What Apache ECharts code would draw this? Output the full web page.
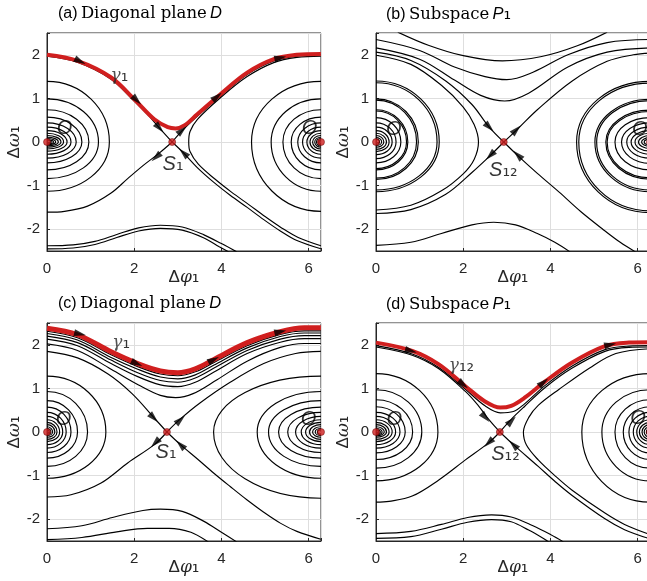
<!DOCTYPE html>
<html>
<head>
<meta charset="utf-8">
<title>Phase portraits</title>
<script src="https://cdn.jsdelivr.net/npm/echarts@6/dist/echarts.min.js"></script>
<style>
  html, body { margin: 0; padding: 0; background: #fff; overflow: hidden; }
  #chart { width: 670px; height: 581px; }
</style>
</head>
<body>
<div id="chart"></div>
<script>
const TWO_PI = 2 * Math.PI

// tick values shown on the axes
const xTicks = [0, 2, 4, 6]
const yTicks = [-2, -1, 0, 1, 2]

// ---------- (a) Diagonal plane D ----------
const aSaddle = 2.87
const aGamma = [[0, 2.0], [0.7, 1.86], [1.47, 1.48], [2.0, 0.98], [2.46, 0.52], [2.77, 0.34], [2.95, 0.31], [3.15, 0.38], [3.44, 0.63], [3.97, 1.09], [4.59, 1.59], [5.2, 1.9], [5.73, 2.0], [6.28, 2.02]]
const aWsUp = [[0, 1.97], [0.7, 1.83], [1.47, 1.44], [2.0, 0.94], [2.3, 0.64], [2.58, 0.32], [2.87, 0]]
const aWuUp = [[2.87, 0], [3.1, 0.26], [3.4, 0.55], [3.97, 1.05], [4.59, 1.55], [5.2, 1.86], [5.73, 1.97], [6.28, 2.0]]
const aWuLow = [[2.87, 0], [2.58, -0.25], [2.23, -0.52], [1.85, -0.84], [1.47, -1.17], [0.93, -1.47], [0.4, -1.59], [0, -1.61]]
const aWsLow = [[2.87, 0], [3.13, -0.25], [3.44, -0.58], [3.82, -0.92], [4.2, -1.22], [4.59, -1.5], [4.97, -1.78], [5.35, -2.04], [5.73, -2.26], [6.28, -2.45]]
const aHyp = [[6.28, 1.97], [5.73, 1.94], [5.2, 1.82], [4.59, 1.5], [3.97, 1.01], [3.45, 0.52], [3.28, 0.24], [3.25, 0], [3.28, -0.22], [3.47, -0.51], [3.85, -0.85], [4.23, -1.15], [4.62, -1.43], [5.0, -1.71], [5.38, -1.97], [5.76, -2.19], [6.28, -2.38]]
const aLow1 = [[0, -2.38], [0.6, -2.36], [1.1, -2.28], [1.6, -2.12], [2.1, -1.97], [2.6, -1.91], [3.1, -1.95], [3.6, -2.13], [4.0, -2.33], [4.35, -2.52]]
const aLow2 = [[0, -2.45], [0.6, -2.43], [1.1, -2.35], [1.6, -2.19], [2.1, -2.04], [2.6, -1.98], [3.1, -2.02], [3.6, -2.2], [3.95, -2.4], [4.22, -2.55]]
// rings round O: [top at edge, turning x, bottom at edge]
const aRingsL = [[1.39, 1.43, -1.13], [0.99, 1.18, -0.84], [0.74, 0.96, -0.64], [0.57, 0.8, -0.48], [0.44, 0.67, -0.37], [0.34, 0.55, -0.28], [0.26, 0.46, -0.21], [0.2, 0.38, -0.16], [0.15, 0.32, -0.12], [0.11, 0.26, -0.09], [0.08, 0.2, -0.06], [0.05, 0.15, -0.04], [0.03, 0.1, -0.02]]
const aRingsR = [[1.39, 4.69, -1.59], [0.99, 5.14, -1.13], [0.74, 5.41, -0.84], [0.57, 5.6, -0.64], [0.44, 5.75, -0.48], [0.34, 5.86, -0.37], [0.26, 5.96, -0.28], [0.2, 6.03, -0.21], [0.15, 6.09, -0.16], [0.11, 6.14, -0.12], [0.08, 6.18, -0.09], [0.05, 6.22, -0.06], [0.03, 6.25, -0.03]]
// arrows: [x, y, heading in degrees]
const aArrows = [[0.76, 1.85, -26], [2.06, 0.96, -45], [2.58, 0.32, -48], [3.1, 0.27, 42], [3.9, 1.04, 40], [5.35, 1.93, 12], [2.5, -0.35, -138], [3.13, -0.25, 136]]

// ---------- (b) Subspace P1 ----------
const bSaddle = 2.93
const bWsUp = [[0, 2.06], [0.8, 1.87], [1.6, 1.4], [2.2, 0.86], [2.58, 0.36], [2.93, 0]]
const bWuUp = [[2.93, 0], [3.27, 0.32], [3.7, 0.74], [4.5, 1.4], [5.3, 1.85], [5.9, 2.0], [6.28, 2.04]]
const bWuLow = [[2.93, 0], [2.6, -0.33], [2.2, -0.7], [1.6, -1.2], [0.8, -1.55], [0, -1.64]]
const bWsLow = [[2.93, 0], [3.27, -0.33], [3.7, -0.72], [4.2, -1.15], [4.7, -1.6], [5.2, -2.0], [5.6, -2.3], [5.95, -2.52]]
const bHyp = [[0, 1.99], [0.8, 1.78], [1.5, 1.3], [2.0, 0.8], [2.25, 0.4], [2.35, 0], [2.25, -0.4], [2.0, -0.73], [1.5, -1.12], [0.8, -1.45], [0, -1.56]]
const bTop0 = [[0.5, 2.52], [1.2, 2.22], [2.0, 1.98], [2.9, 1.86], [3.8, 1.96], [4.6, 2.2], [5.3, 2.52]]
const bTop1 = [[0, 2.35], [1.0, 2.1], [1.8, 1.72], [2.5, 1.5], [3.0, 1.43], [3.6, 1.6], [4.4, 2.0], [5.3, 2.28], [6.28, 2.35]]
const bTop2 = [[0, 2.16], [1.0, 1.9], [1.8, 1.42], [2.4, 1.07], [2.95, 0.94], [3.5, 1.12], [4.4, 1.72], [5.3, 2.06], [6.28, 2.16]]
const bLow = [[0, -2.37], [0.8, -2.3], [1.5, -2.1], [2.2, -1.9], [2.7, -1.84], [3.2, -1.9], [3.7, -2.1], [4.1, -2.3], [4.45, -2.52]]
const bRingsL = [[1.4, 1.45, -1.14], [1.36, 1.4, -1.1], [0.99, 0.97, -0.86], [0.96, 0.93, -0.83], [0.74, 0.73, -0.64], [0.71, 0.7, -0.61], [0.56, 0.57, -0.48], [0.44, 0.46, -0.38], [0.34, 0.37, -0.29], [0.26, 0.3, -0.22], [0.2, 0.24, -0.17], [0.15, 0.18, -0.12], [0.1, 0.13, -0.08], [0.06, 0.08, -0.05]]
const bRingsR = [[1.39, 4.6, -1.62], [1.35, 4.65, -1.58], [0.98, 5.02, -1.14], [0.95, 5.06, -1.1], [0.73, 5.27, -0.85], [0.7, 5.3, -0.82], [0.56, 5.48, -0.64], [0.44, 5.63, -0.49], [0.34, 5.75, -0.37], [0.26, 5.85, -0.28], [0.2, 5.94, -0.21], [0.15, 6.02, -0.15], [0.1, 6.09, -0.1], [0.06, 6.15, -0.06]]
const bArrows = [[2.6, 0.34, -45], [3.22, 0.28, 45], [2.62, -0.31, -135], [3.25, -0.3, 135]]

// ---------- (c) Diagonal plane D ----------
const cSaddle = 2.75
const cGamma = [[0, 2.38], [0.7, 2.23], [1.47, 1.84], [2.08, 1.57], [2.6, 1.4], [3.0, 1.36], [3.4, 1.45], [3.82, 1.66], [4.59, 2.05], [5.35, 2.3], [5.9, 2.39], [6.28, 2.39]]
const cK1 = [[0, 2.31], [0.7, 2.16], [1.47, 1.77], [2.08, 1.5], [2.6, 1.33], [3.0, 1.29], [3.4, 1.38], [3.82, 1.59], [4.59, 1.98], [5.35, 2.24], [5.9, 2.32], [6.28, 2.32]]
const cK2 = [[0, 2.26], [0.7, 2.11], [1.47, 1.71], [2.08, 1.44], [2.6, 1.26], [3.0, 1.22], [3.4, 1.31], [3.82, 1.53], [4.59, 1.93], [5.35, 2.19], [5.9, 2.27], [6.28, 2.27]]
const cK3 = [[0, 2.2], [0.7, 2.05], [1.47, 1.65], [2.08, 1.36], [2.6, 1.18], [3.0, 1.14], [3.4, 1.24], [3.82, 1.46], [4.59, 1.87], [5.35, 2.13], [5.9, 2.21], [6.28, 2.21]]
const cK4 = [[0, 2.13], [0.7, 1.98], [1.47, 1.57], [2.08, 1.27], [2.6, 1.08], [3.0, 1.04], [3.4, 1.14], [3.82, 1.37], [4.59, 1.8], [5.35, 2.06], [5.9, 2.14], [6.28, 2.14]]
const cK5 = [[0, 2.02], [0.7, 1.87], [1.47, 1.44], [2.1, 1.08], [2.6, 0.84], [2.95, 0.79], [3.35, 0.88], [3.9, 1.2], [4.6, 1.63], [5.35, 1.94], [5.9, 2.03], [6.28, 2.03]]
const cWsUp = [[0, 1.85], [0.7, 1.7], [1.4, 1.33], [1.95, 0.88], [2.46, 0.32], [2.75, 0]]
const cWuUp = [[2.75, 0], [3.06, 0.3], [3.5, 0.66], [4.2, 1.14], [4.97, 1.57], [5.7, 1.8], [6.28, 1.85]]
const cWuLow = [[2.75, 0], [2.46, -0.29], [1.85, -0.71], [1.24, -1.17], [0.55, -1.44], [0, -1.49]]
const cWsLow = [[2.75, 0], [3.06, -0.29], [3.45, -0.62], [3.82, -0.94], [4.2, -1.25], [4.59, -1.56], [4.97, -1.84], [5.35, -2.09], [5.73, -2.28], [6.28, -2.46]]
const cLow1 = [[0, -2.22], [0.8, -2.15], [1.5, -1.96], [2.2, -1.8], [2.6, -1.77], [3.1, -1.82], [3.6, -2.05], [4.0, -2.3], [4.35, -2.52]]
const cLow2 = [[0, -2.47], [0.8, -2.42], [1.6, -2.29], [2.3, -2.21], [2.8, -2.21], [3.3, -2.3], [3.7, -2.52]]
const cRingsL = [[1.28, 1.35, -1.06], [0.93, 0.93, -0.79], [0.72, 0.7, -0.6], [0.57, 0.55, -0.47], [0.45, 0.44, -0.37], [0.36, 0.36, -0.29], [0.28, 0.29, -0.22], [0.22, 0.23, -0.17], [0.17, 0.18, -0.12], [0.12, 0.13, -0.08], [0.08, 0.09, -0.05], [0.05, 0.05, -0.03]]
const cRingsR = [[1.28, 3.82, -1.52], [0.93, 4.82, -1.06], [0.72, 5.08, -0.79], [0.57, 5.31, -0.6], [0.45, 5.52, -0.47], [0.36, 5.7, -0.37], [0.28, 5.83, -0.29], [0.22, 5.93, -0.22], [0.17, 6.02, -0.17], [0.12, 6.09, -0.12], [0.08, 6.15, -0.08], [0.05, 6.2, -0.05]]
const cArrows = [[0.76, 2.25, -12], [2.06, 1.57, -24], [3.82, 1.66, 27], [5.35, 2.3, 12], [2.45, 0.32, -45], [3.06, 0.28, 42], [2.48, -0.25, -135], [3.06, -0.29, 135]]

// ---------- (d) Subspace P1 ----------
const dSaddle = 2.84
const dGamma = [[0, 2.05], [0.83, 1.86], [1.44, 1.55], [2.05, 1.05], [2.5, 0.7], [2.85, 0.56], [3.1, 0.6], [3.4, 0.78], [3.88, 1.16], [4.49, 1.59], [5.25, 1.97], [5.8, 2.05], [6.28, 2.06]]
const dK = [[0, 1.98], [0.83, 1.79], [1.44, 1.48], [2.05, 0.98], [2.5, 0.6], [2.85, 0.44], [3.15, 0.47], [3.4, 0.64], [3.88, 1.07], [4.49, 1.51], [5.25, 1.89], [5.8, 1.97], [6.28, 1.98]]
const dWsUp = [[0, 1.95], [0.83, 1.76], [1.44, 1.45], [2.05, 0.93], [2.35, 0.6], [2.6, 0.27], [2.84, 0]]
const dWuUp = [[2.84, 0], [3.1, 0.29], [3.4, 0.58], [3.88, 1.02], [4.49, 1.46], [5.25, 1.85], [5.8, 1.94], [6.28, 1.95]]
const dHyp = [[6.28, 1.91], [5.5, 1.8], [4.9, 1.47], [4.2, 0.98], [3.72, 0.61], [3.5, 0.33], [3.38, 0], [3.45, -0.3], [3.72, -0.64], [4.1, -1.0], [4.49, -1.33], [5.25, -1.86], [5.7, -2.12], [6.28, -2.35]]
const dWsLow = [[2.84, 0], [3.15, -0.29], [3.72, -0.79], [4.1, -1.13], [4.49, -1.45], [5.25, -1.99], [5.7, -2.24], [6.28, -2.45]]
const dWuLow = [[2.84, 0], [2.58, -0.25], [2.05, -0.64], [1.44, -1.1], [0.83, -1.47], [0.3, -1.59], [0, -1.61]]
const dLow1 = [[0, -2.33], [0.8, -2.28], [1.5, -2.12], [2.1, -1.96], [2.65, -1.9], [3.1, -1.95], [3.6, -2.15], [4.0, -2.35], [4.3, -2.52]]
const dLow2 = [[0, -2.44], [0.8, -2.4], [1.5, -2.23], [2.1, -2.07], [2.65, -2.01], [3.1, -2.06], [3.5, -2.25], [3.85, -2.45], [4.0, -2.55]]
const dRingsL = [[1.34, 1.42, -1.12], [0.97, 1.05, -0.83], [0.74, 0.84, -0.63], [0.58, 0.67, -0.48], [0.45, 0.55, -0.37], [0.36, 0.45, -0.29], [0.28, 0.37, -0.22], [0.22, 0.3, -0.17], [0.17, 0.24, -0.12], [0.12, 0.19, -0.09], [0.08, 0.14, -0.06], [0.05, 0.1, -0.04], [0.03, 0.06, -0.02]]
const dRingsR = [[1.34, 4.72, -1.61], [0.97, 5.18, -1.12], [0.74, 5.48, -0.83], [0.58, 5.67, -0.63], [0.45, 5.8, -0.48], [0.36, 5.9, -0.37], [0.28, 5.98, -0.29], [0.22, 6.04, -0.22], [0.17, 6.1, -0.17], [0.12, 6.15, -0.12], [0.08, 6.2, -0.08], [0.05, 6.24, -0.05]]
const dArrows = [[0.8, 1.86, -15], [2.0, 1.09, -40], [3.84, 1.14, 40], [5.37, 2.0, 12], [2.51, 0.33, -48], [3.11, 0.26, 45], [2.58, -0.25, -137], [3.15, -0.29, 135]]

// styles
const AXIS = '#262626'
const GRIDC = '#dedede'
const RED = '#d01f1f'
const SANS = 'Liberation Sans'

const RICH = {
  d: { fontFamily: SANS, fontSize: 17, color: AXIS },
  g: { fontFamily: 'DejaVu Serif', fontStyle: 'italic', fontSize: 17, color: AXIS },
  s: { fontFamily: 'DejaVu Sans', fontSize: 19, color: AXIS },
  o: { fontFamily: SANS, fontStyle: 'italic', fontSize: 20, color: '#000' },
  t: { fontFamily: SANS, fontSize: 16, color: '#000' },
  r: { fontFamily: 'DejaVu Serif', fontSize: 16.5, color: '#000' },
  i: { fontFamily: SANS, fontStyle: 'italic', fontSize: 16.5, color: '#000' },
  k: { fontFamily: 'DejaVu Sans', fontSize: 19, color: '#000' }
}

const panels = [
  {
    box: { left: 47, top: 33 }, title: { left: 58, top: 5, text: '{t|(a)} {r|Diagonal plane} {i|D}' },
    saddle: aSaddle, ringsL: aRingsL, ringsR: aRingsR, arrows: aArrows, gamma: aGamma, gammaWidth: 4,
    black: [aWsUp, aWuUp, aWuLow, aWsLow, aHyp, aLow1, aLow2],
    labels: [['{o|O}', 0.4, 0.3], ['{o|O}', 6.02, 0.3], ['{o|S}{k|₁}', 2.89, -0.52], ['{g|γ}{k|₁}', 1.66, 1.52]]
  },
  {
    box: { left: 376, top: 33 }, title: { left: 386, top: 5, text: '{t|(b)} {r|Subspace} {i|P}{k|₁}' },
    saddle: bSaddle, ringsL: bRingsL, ringsR: bRingsR, arrows: bArrows, gamma: null,
    black: [bWsUp, bWuUp, bWuLow, bWsLow, bHyp, bTop0, bTop1, bTop2, bLow],
    labels: [['{o|O}', 0.41, 0.29], ['{o|O}', 6.05, 0.28], ['{o|S}{k|₁₂}', 2.92, -0.66]]
  },
  {
    box: { left: 47, top: 323 }, title: { left: 58, top: 295, text: '{t|(c)} {r|Diagonal plane} {i|D}' },
    saddle: cSaddle, ringsL: cRingsL, ringsR: cRingsR, arrows: cArrows, gamma: cGamma, gammaWidth: 5,
    black: [cK1, cK2, cK3, cK4, cK5, cWsUp, cWuUp, cWuLow, cWsLow, cLow1, cLow2],
    labels: [['{o|O}', 0.38, 0.29], ['{o|O}', 6.0, 0.29], ['{o|S}{k|₁}', 2.73, -0.48], ['{g|γ}{k|₁}', 1.7, 2.05]]
  },
  {
    box: { left: 376, top: 323 }, title: { left: 386, top: 295, text: '{t|(d)} {r|Subspace} {i|P}{k|₁}' },
    saddle: dSaddle, ringsL: dRingsL, ringsR: dRingsR, arrows: dArrows, gamma: dGamma, gammaWidth: 4,
    black: [dK, dWsUp, dWuUp, dHyp, dWsLow, dWuLow, dLow1, dLow2],
    labels: [['{o|O}', 0.42, 0.29], ['{o|O}', 6.01, 0.3], ['{o|S}{k|₁₂}', 2.97, -0.52], ['{g|γ}{k|₁₂}', 1.96, 1.52]]
  }
]

const intLabel = v => (xTicks.includes(v) || yTicks.includes(v)) ? String(v) : ''

// half rings round a centre on the edge (x = 0 or x = 2π)
function ringSeries(rings, base, gi) {
  return {
    type: 'custom', xAxisIndex: gi, yAxisIndex: gi, data: rings, encode: { x: 1, y: 0 },
    silent: true, z: 2, clip: true,
    renderItem: (params, api) => {
      const top = api.coord([base, api.value(0)])
      const tip = api.coord([api.value(1), 0])
      const bot = api.coord([base, api.value(2)])
      const k = 0.5523
      const st = { stroke: '#000', lineWidth: 1.15, fill: null }
      return {
        type: 'group',
        children: [
          { type: 'bezierCurve', style: st, shape: { x1: top[0], y1: top[1], cpx1: top[0] + k * (tip[0] - top[0]), cpy1: top[1], cpx2: tip[0], cpy2: tip[1] + k * (top[1] - tip[1]), x2: tip[0], y2: tip[1] } },
          { type: 'bezierCurve', style: st, shape: { x1: tip[0], y1: tip[1], cpx1: tip[0], cpy1: tip[1] + k * (bot[1] - tip[1]), cpx2: bot[0] + k * (tip[0] - bot[0]), cpy2: bot[1], x2: bot[0], y2: bot[1] } }
        ]
      }
    }
  }
}

function curve(data, gi, color, width, z) {
  return {
    type: 'line', xAxisIndex: gi, yAxisIndex: gi, data, symbol: 'none', smooth: 0.35,
    lineStyle: { color, width }, silent: true, z
  }
}

const grids = [], xAxes = [], yAxes = [], series = [], graphic = []
panels.forEach((p, gi) => {
  grids.push({ left: p.box.left, top: p.box.top, width: 274, height: 218, show: true, borderColor: AXIS, borderWidth: 1 })
  xAxes.push({
    gridIndex: gi, type: 'value', min: 0, max: TWO_PI, interval: 2,
    axisLine: { onZero: false, lineStyle: { color: AXIS } },
    axisTick: { inside: true, length: 3, lineStyle: { color: AXIS } },
    axisLabel: { margin: 10, fontFamily: SANS, fontSize: 15, color: AXIS, formatter: intLabel },
    splitLine: { lineStyle: { color: GRIDC } },
    name: '{d|Δ}{g|φ}{s|₁}', nameLocation: 'middle', nameGap: 17, nameMoveOverlap: false,
    nameTextStyle: { rich: RICH }
  })
  yAxes.push({
    gridIndex: gi, type: 'value', min: -2.5, max: 2.5, splitNumber: 5,
    axisLine: { onZero: false, lineStyle: { color: AXIS } },
    axisTick: { inside: true, length: 3, lineStyle: { color: AXIS } },
    axisLabel: { margin: 7, fontFamily: SANS, fontSize: 15, color: AXIS, formatter: intLabel },
    splitLine: { lineStyle: { color: GRIDC } },
    name: '{d|Δ}{g|ω}{s|₁}', nameLocation: 'middle', nameGap: 23, nameMoveOverlap: false,
    nameTextStyle: { rich: RICH }
  })
  series.push(ringSeries(p.ringsL, 0, gi), ringSeries(p.ringsR, TWO_PI, gi))
  p.black.forEach(c => series.push(curve(c, gi, '#000', 1.15, 2)))
  if (p.gamma) series.push(curve(p.gamma, gi, RED, p.gammaWidth, 3))
  series.push({
    type: 'scatter', xAxisIndex: gi, yAxisIndex: gi, silent: true, z: 4,
    symbol: 'path://M0,0L14,5L0,10Z', symbolSize: [12, 7], itemStyle: { color: '#000' },
    data: p.arrows.map(a => ({ value: [a[0], a[1]], symbolRotate: a[2] }))
  })
  series.push({
    type: 'scatter', xAxisIndex: gi, yAxisIndex: gi, silent: true, z: 5, symbolSize: 7,
    itemStyle: { color: RED, borderColor: '#600', borderWidth: 0.6 },
    data: [[0, 0], [TWO_PI, 0], [p.saddle, 0]]
  })
  series.push({
    type: 'scatter', xAxisIndex: gi, yAxisIndex: gi, silent: true, z: 6, symbolSize: 1,
    itemStyle: { color: 'rgba(0,0,0,0)' },
    label: { show: true, position: 'inside', rich: RICH },
    data: p.labels.map(l => ({ value: [l[1], l[2]], label: { formatter: l[0] } }))
  })
  graphic.push({ type: 'text', left: p.title.left, top: p.title.top, silent: true, style: { text: p.title.text, rich: RICH } })
})

const chart = echarts.init(document.getElementById('chart'), null, { renderer: 'canvas' })
chart.setOption({
  backgroundColor: '#fff',
  animation: false,
  grid: grids,
  xAxis: xAxes,
  yAxis: yAxes,
  series,
  graphic
})
</script>
</body>
</html>
